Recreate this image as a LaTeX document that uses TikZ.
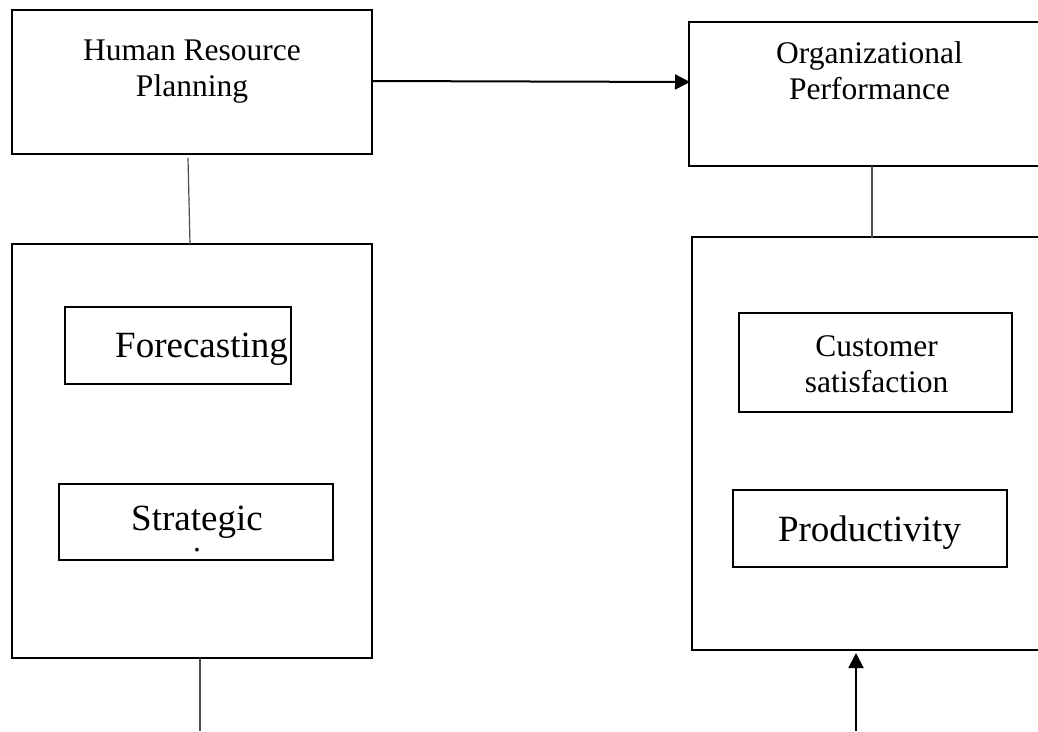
\documentclass[tikz,border=0pt]{standalone}
\usepackage{fontspec}
\setmainfont{Liberation Serif}
\usetikzlibrary{arrows.meta}
\begin{document}
\begin{tikzpicture}[x=1pt,y=-1pt,
  box/.style={draw=black,line width=2.2pt,rectangle,inner sep=0pt,outer sep=0pt},
  thin/.style={draw=black!70,line width=1.2pt},
  arr/.style={draw=black,line width=2pt,-{Triangle[length=15pt,width=15pt]}},
  med/.style={font=\fontsize{31.5}{36}\selectfont,align=center,inner sep=0pt},
  big/.style={font=\fontsize{37}{42}\selectfont,align=center,inner sep=0pt}]
\useasboundingbox (0,0) rectangle (1038,731);
\clip (0,0) rectangle (1038,731);
% boxes
\node[box,minimum width=360pt,minimum height=144pt] (hrp) at (192,82) {};
\node[box,minimum width=360pt,minimum height=414pt] (left) at (192,451) {};
\node[box,minimum width=226pt,minimum height=77pt] (fore) at (178,345.5) {};
\node[box,minimum width=274pt,minimum height=76pt] (strat) at (196,522) {};
\node[box,minimum width=380pt,minimum height=144pt,anchor=west] (op) at (689,94) {};
\node[box,minimum width=380pt,minimum height=413pt,anchor=west] (right) at (692,443.5) {};
\node[box,minimum width=273pt,minimum height=99pt] (cust) at (875.5,362.5) {};
\node[box,minimum width=274pt,minimum height=77pt] (prod) at (870,528.5) {};
% texts (base anchor = baseline of the last line)
\node[med,anchor=base] (thrp) at (192,96) {Human Resource\\Planning};
\node[med,anchor=base] (top) at (869.5,99) {Organizational\\Performance};
\node[med,anchor=base] (tcust) at (876.5,392) {Customer\\satisfaction};
\node[big,anchor=base] (tfore) at (201.5,357) {Forecasting};
\node[big,anchor=base] (tstrat) at (197,551) {Strategic\\[-21pt]{\fontsize{31.5}{36}\selectfont .}};
\node[big,anchor=base] (tprod) at (869.5,541) {Productivity};
% connectors
\coordinate (c1) at (188,158);
\coordinate (c2) at (190,244);
\draw[thin] (c1) -- (c2);
\coordinate (c3) at (872,166);
\coordinate (c4) at (872,238);
\draw[thin] (c3) -- (c4);
\coordinate (c5) at (200,731);
\draw[thin] (left.south -| c5) -- (c5);
\coordinate (a1) at (372,81);
\coordinate (a2) at (690,82);
\draw[arr] (a1) -- (a2);
\coordinate (b1) at (856,731);
\coordinate (b2) at (856,653);
\draw[arr] (b1) -- (b2);
\end{tikzpicture}
\end{document}
